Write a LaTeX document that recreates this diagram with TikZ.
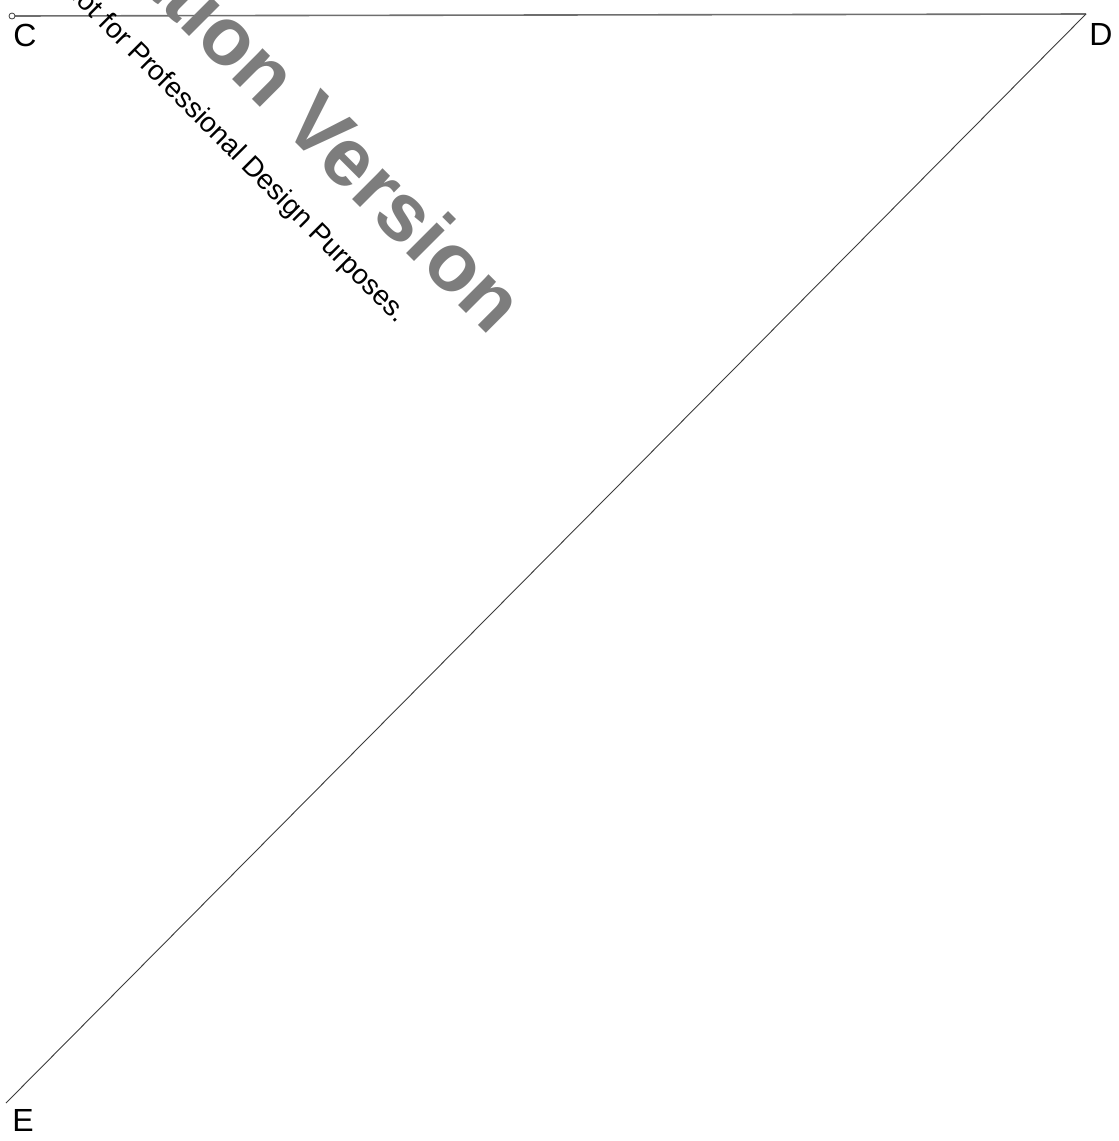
\documentclass[tikz,border=0pt]{standalone}
\usepackage{fontspec}
\setmainfont{Liberation Sans}
\usepackage{tikz}
\usetikzlibrary{positioning}
\definecolor{lineGray}{RGB}{110,110,110}
\definecolor{edgeDark}{RGB}{60,60,60}
\definecolor{markGray}{RGB}{125,125,125}
\tikzset{
  ptlabel/.style={inner sep=0pt, font=\fontsize{32}{36}\selectfont},
  segment/.style={draw=edgeDark, line width=0.9pt},
  topsegment/.style={draw=lineGray, line width=1.6pt},
  bigmark/.style={inner sep=0pt, text=markGray, rotate=-45, anchor=base east,
    font=\fontsize{82}{90}\selectfont\bfseries},
  smallmark/.style={inner sep=0pt, text=black, rotate=-45, anchor=base east,
    font=\fontsize{28}{32}\selectfont}
}
\begin{document}
\begin{tikzpicture}[x=1pt, y=-1pt]
  \useasboundingbox (0,0) rectangle (1119,1141);
  \clip (0,0) rectangle (1119,1141);
  % points
  \coordinate (C) at (12,16);
  \coordinate (D) at (1086,14);
  \coordinate (E) at (6,1103);
  % segments
  \draw[topsegment] (C) -- (D);
  \draw[segment] (D) -- (E);
  \draw[edgeDark, line width=0.8pt, fill=white] (C) circle (3);
  % labels
  \node[ptlabel] (lblC) at (25,35) {C};
  \node[ptlabel] (lblD) at (1101,34) {D};
  \node[ptlabel] (lblE) at (23,1120) {E};
  % watermark
  \node[bigmark] (wmBig) at (490,337) {Evaluation Version};
  \node[smallmark] (wmSmall) at (397,324) {Not for Professional Design Purposes.};
\end{tikzpicture}
\end{document}
